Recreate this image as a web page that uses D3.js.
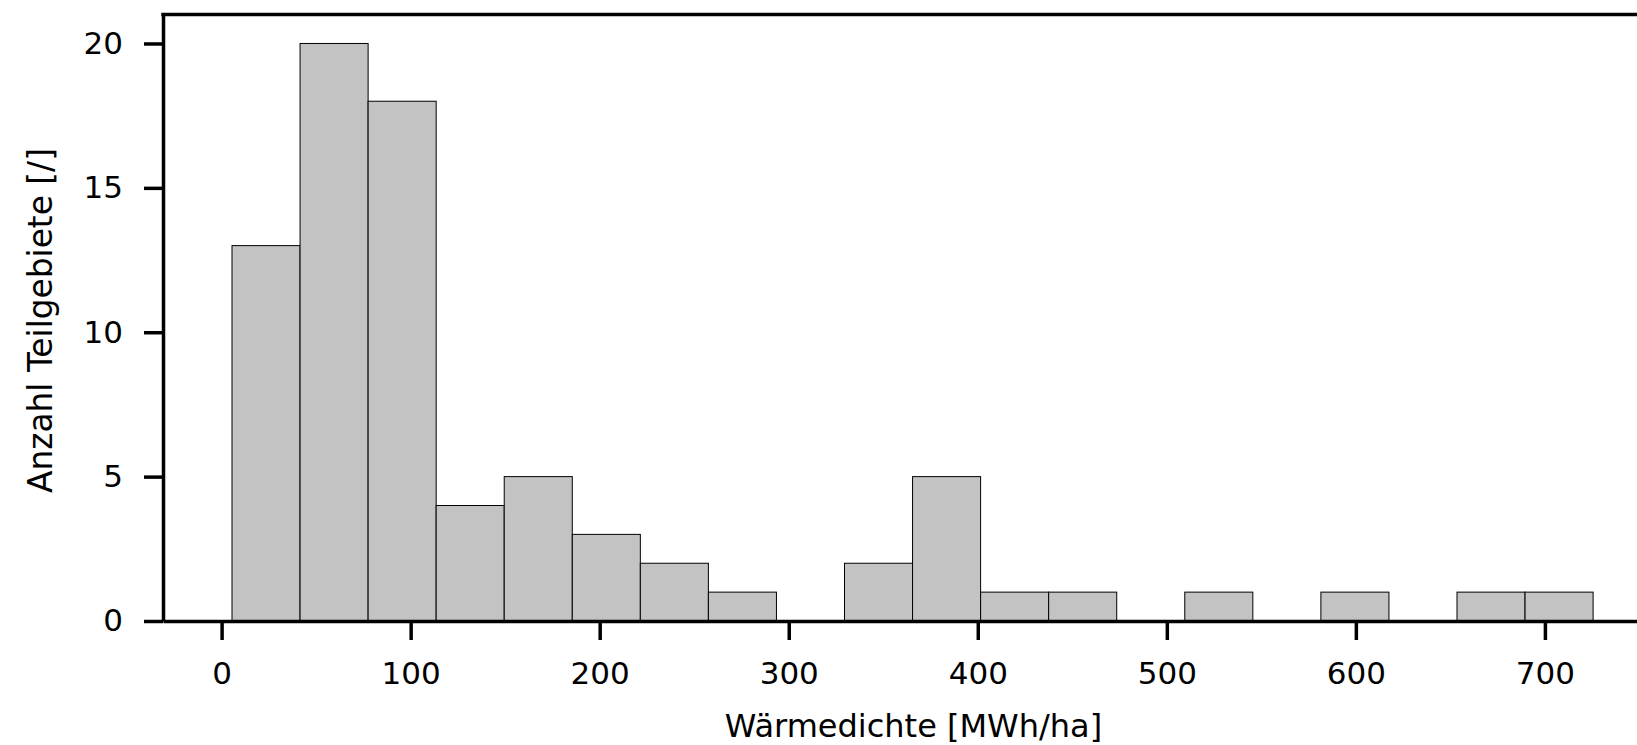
<!DOCTYPE html>
<html>
<head>
<meta charset="utf-8">
<script src="https://cdn.jsdelivr.net/npm/d3@7"></script>
<style>
  body { margin: 0; background: #fff; overflow: hidden; }
  svg text { font-family: "DejaVu Sans", sans-serif; fill: #000; }
</style>
</head>
<body>
<div id="chart"></div>
<script>
// bin edges of the histogram (MWh/ha) and the count per bin
const binEdges = [5.5, 41.5, 77.5, 113.5, 149.5, 185.5, 221.5, 257.5, 293.5, 329.5, 365.5,
                  401.5, 437.5, 473.5, 509.5, 545.5, 581.5, 617.5, 653.5, 689.5, 725.5];
const counts = [13, 20, 18, 4, 5, 3, 2, 1, 0, 2, 5, 1, 1, 0, 1, 0, 1, 0, 1, 1];
const xTicks = [0, 100, 200, 300, 400, 500, 600, 700];
const yTicks = [0, 5, 10, 15, 20];
const xLabel = "Wärmedichte [MWh/ha]";
const yLabel = "Anzahl Teilgebiete [/]";

const svgWidth = 1637, svgHeight = 745;
// plot area, the right side runs past the picture like in the original
const plotLeft = 163, plotRight = 1664, plotTop = 14.6, plotBottom = 621;

const svg = d3.select("#chart").append("svg")
    .attr("width", svgWidth)
    .attr("height", svgHeight);

const x = d3.scaleLinear().domain([-31, 763]).range([plotLeft, plotRight]);
const y = d3.scaleLinear().domain([0, 21]).range([plotBottom, plotTop]);

const bins = counts.map(function(c, i) { return {x0: binEdges[i], x1: binEdges[i + 1], n: c}; });

svg.selectAll(".bar")
    .data(bins.filter(function(d) { return d.n > 0; }))
    .enter().append("rect")
    .attr("class", "bar")
    .attr("x", function(d) { return x(d.x0); })
    .attr("y", function(d) { return y(d.n); })
    .attr("width", function(d) { return x(d.x1) - x(d.x0); })
    .attr("height", function(d) { return y(0) - y(d.n); })
    .attr("fill", "#c3c3c3")
    .attr("stroke", "#000")
    .attr("stroke-width", 1);

// axes
const xAxis = svg.append("g")
    .attr("transform", "translate(0," + plotBottom + ")")
    .call(d3.axisBottom(x).tickValues(xTicks).tickFormat(d3.format("d"))
        .tickSize(19).tickSizeOuter(0).tickPadding(22));

const yAxis = svg.append("g")
    .attr("transform", "translate(" + plotLeft + ",0)")
    .call(d3.axisLeft(y).tickValues(yTicks).tickFormat(d3.format("d"))
        .tickSize(19).tickSizeOuter(0).tickPadding(21));

[xAxis, yAxis].forEach(function(g) {
    g.selectAll(".domain").attr("stroke", "#000").attr("stroke-width", 3.5);
    g.selectAll(".tick line").attr("stroke", "#000").attr("stroke-width", 3.5);
    g.selectAll(".tick text").style("font-size", "31px").attr("fill", "#000");
});

// top and right spines
svg.append("line")
    .attr("x1", plotLeft - 1.75).attr("x2", plotRight)
    .attr("y1", plotTop).attr("y2", plotTop)
    .attr("stroke", "#000").attr("stroke-width", 3.5);
svg.append("line")
    .attr("x1", plotRight).attr("x2", plotRight)
    .attr("y1", plotTop).attr("y2", plotBottom)
    .attr("stroke", "#000").attr("stroke-width", 3.5);

// axis labels
svg.append("text")
    .attr("x", (plotLeft + plotRight) / 2)
    .attr("y", 737)
    .attr("text-anchor", "middle")
    .style("font-size", "32px")
    .text(xLabel);

svg.append("text")
    .attr("transform", "translate(52,320.5) rotate(-90)")
    .attr("text-anchor", "middle")
    .style("font-size", "32.8px")
    .text(yLabel);
</script>
</body>
</html>
